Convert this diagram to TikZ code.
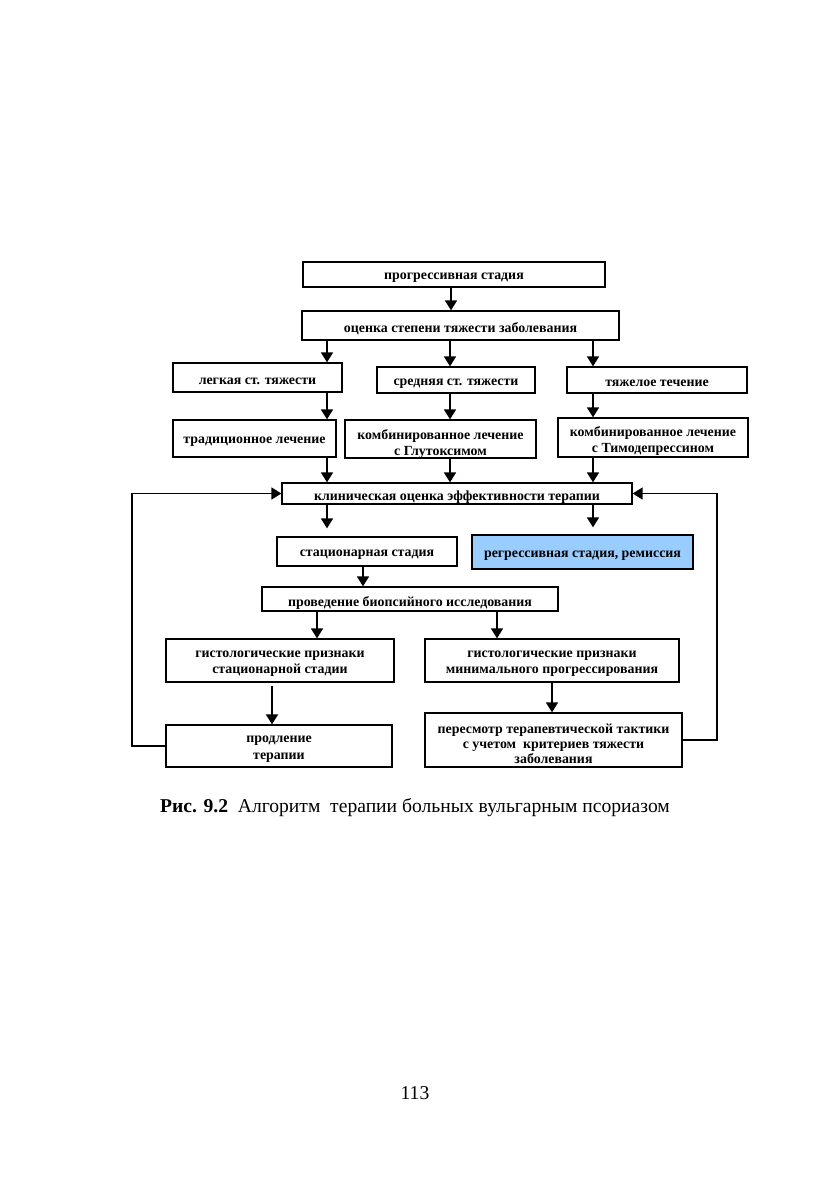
\documentclass[tikz,border=0pt]{standalone}
\usepackage{fontspec}
\setmainfont{Liberation Serif}
\usetikzlibrary{arrows.meta}
\newcommand\mkbox[8][]{\node[box,#1,minimum width={#5pt-#3pt},minimum height={#6pt-#4pt},
  label={[boxtext,#7]center:{#8}}] (#2) at ({(#3+#5)/2},{(#4+#6)/2}) {};}
\begin{document}
\begin{tikzpicture}[x=1pt,y=-1pt,
  box/.style={draw=black,line width=1.3pt,inner sep=0pt},
  boxtext/.style={inner sep=0pt,align=center,yshift=-3.5pt,
    font=\bfseries\fontsize{13.9}{16}\selectfont},
  arr/.style={line width=1.7pt,-{Triangle[length=10pt,width=12pt]}}]
\useasboundingbox[fill=white] (0,0) rectangle (830,1177);
% columns
\coordinate (c1) at (451,0);
\coordinate (cA) at (327,0);
\coordinate (cB) at (450,0);
\coordinate (cC) at (593,0);
\coordinate (cS) at (363,0);
\coordinate (cL) at (317,0);
\coordinate (cR) at (497,0);
\coordinate (cH1) at (272,0);
\coordinate (cH2) at (552,0);
\coordinate (xL) at (132,0);
\coordinate (xR) at (717,0);
% boxes
\mkbox{p1}{303}{262}{605}{287}{}{прогрессивная стадия}
\mkbox{p2}{302}{311}{619}{340}{}{оценка степени тяжести заболевания}
\mkbox{leg}{173}{363}{342}{392}{}{легкая ст. тяжести}
\mkbox{mid}{377}{367}{535}{393}{}{средняя ст. тяжести}
\mkbox{hev}{567}{367}{747}{393}{}{тяжелое течение}
\mkbox{trad}{173}{420}{336}{457}{}{традиционное лечение}
\mkbox{glu}{345}{420}{536}{458}{yshift=-2pt}{комбинированное лечение\\с Глутоксимом}
\mkbox{tim}{558}{418}{748}{457}{yshift=-0.5pt}{комбинированное лечение\\с Тимодепрессином}
\mkbox{klin}{282}{483}{632}{504}{}{клиническая оценка эффективности терапии}
\mkbox{stac}{277}{537}{457}{566}{}{стационарная стадия}
\mkbox[fill={rgb,255:red,153;green,204;blue,255}]{regr}{472}{535}{693}{569}{}{регрессивная стадия, ремиссия}
\mkbox{biop}{262}{587}{558}{611}{}{проведение биопсийного исследования}
\mkbox{hist1}{166}{639}{394}{682}{}{гистологические признаки\\стационарной стадии}
\mkbox{hist2}{425}{639}{679}{682}{}{гистологические признаки\\минимального прогрессирования}
\mkbox{prod}{166}{725}{392}{767}{font=\bfseries\fontsize{13.9}{17}\selectfont}{продление\\терапии}
\mkbox{per}{425}{713}{682}{767}{font=\bfseries\fontsize{13.9}{15.2}\selectfont}{пересмотр терапевтической тактики\\с учетом\ \ критериев тяжести\\заболевания}
% arrows
\draw[arr] (p1.south -| c1) -- (p2.north -| c1);
\draw[arr] (p2.south -| cA) -- (leg.north -| cA);
\draw[arr] (p2.south -| cB) -- (mid.north -| cB);
\draw[arr] (p2.south -| cC) -- (hev.north -| cC);
\draw[arr] (leg.south -| cA) -- (trad.north -| cA);
\draw[arr] (mid.south -| cB) -- (glu.north -| cB);
\draw[arr] (hev.south -| cC) -- (tim.north -| cC);
\draw[arr] (trad.south -| cA) -- (klin.north -| cA);
\draw[arr] (glu.south -| cB) -- (klin.north -| cB);
\draw[arr] (tim.south -| cC) -- (klin.north -| cC);
\draw[arr,shorten >=8pt] (klin.south -| cA) -- (stac.north -| cA);
\draw[arr,shorten >=7pt] (klin.south -| cC) -- (regr.north -| cC);
\draw[arr] (stac.south -| cS) -- (biop.north -| cS);
\draw[arr] (biop.south -| cL) -- (hist1.north -| cL);
\draw[arr] (biop.south -| cR) -- (hist2.north -| cR);
\draw[arr,shorten <=3pt] (hist1.south -| cH1) -- (prod.north -| cH1);
\draw[arr] (hist2.south -| cH2) -- (per.north -| cH2);
\draw[arr] (prod.west) -- (prod.west -| xL) -- (klin.west -| xL) -- (klin.west);
\draw[arr] (per.east) -- (per.east -| xR) -- (klin.east -| xR) -- (klin.east);
% caption and page number
\node[anchor=base west,inner sep=0pt,font=\fontsize{19.6}{22}\selectfont] (cap) at (160,812)
  {\textbf{Рис. 9.2}\ \ Алгоритм\ \ терапии больных вульгарным псориазом};
\node[anchor=base,inner sep=0pt,font=\fontsize{19.6}{22}\selectfont] (pg) at (415,1099) {113};
\end{tikzpicture}
\end{document}
